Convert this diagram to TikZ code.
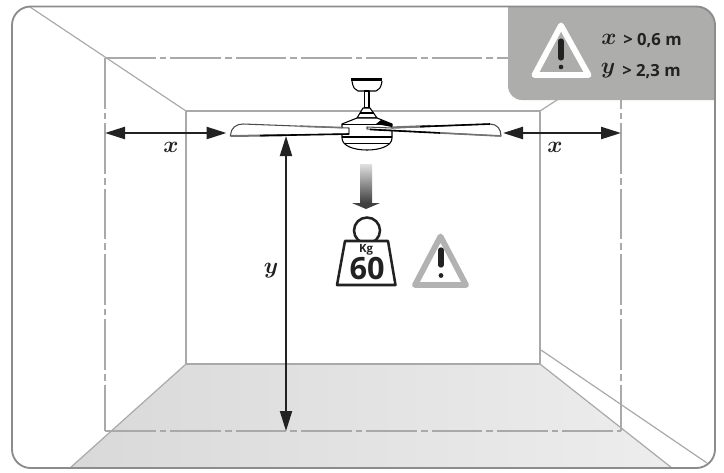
\documentclass[tikz,border=0pt]{standalone}
\usepackage{fontspec}
\setmainfont{Open Sans}
\usetikzlibrary{arrows.meta,calc}
\definecolor{wallc}{HTML}{A9A9A9}
\definecolor{framec}{HTML}{8C8C8C}
\definecolor{badgec}{HTML}{ADADAB}
\definecolor{inkc}{HTML}{222222}
\tikzset{
  wall/.style={draw=wallc,line width=1.5pt},
  thinwall/.style={draw=wallc,line width=0.9pt},
  dimline/.style={wallc,line width=1.6pt,dash pattern=on 38pt off 3pt on 5pt off 3pt},
  dimarrow/.style={inkc,line width=1.8pt,{Triangle[length=15pt,width=9pt]}-{Triangle[length=15pt,width=9pt]}},
  mathlabel/.style={inner sep=0pt,text=inkc,font=\fontsize{18.5}{19}\selectfont\boldmath},
  speclabel/.style={inner sep=0pt,text=inkc,font=\fontsize{18.5}{19}\selectfont\boldmath},
  spec/.style={inner sep=0pt,anchor=west,text=inkc,font=\fontsize{12.5}{13}\selectfont\bfseries},
  fanline/.style={draw=black,line width=0.8pt,fill=white,line join=round},
  warn/.style={line width=4.4pt,line join=round},
}
\begin{document}
\begin{tikzpicture}[x=0.75pt,y=-0.75pt]
\useasboundingbox (0,0) rectangle (724,472);
% named corners
\coordinate (backTL) at (186,111); \coordinate (backTR) at (540,111);
\coordinate (backBL) at (186,364); \coordinate (backBR) at (540,364);
\coordinate (dimTL) at (105,58); \coordinate (dimTR) at (621,58);
\coordinate (dimBL) at (105,431); \coordinate (dimBR) at (621,431);
% floor
\shade[left color=black!15,right color=black!7,middle color=black!11] (backBL) -- (backBR) -- (672,468) -- (70,468) -- cycle;
\draw[thinwall] (70,468) -- (backBL);
\draw[thinwall] (672,468) -- (backBR);
% wall edges
\draw[thinwall] (30,7) -- (backTL);
\draw[thinwall] (backTR) -- (560,98);
\draw[thinwall] (541,350) -- (707,463);
\draw[wall] (backBL) -- (backTL) -- (backTR) -- (backBR) -- cycle;
% dash-dot clearance frame
\draw[dimline] (dimTL) -- (dimTR);
\draw[dimline] (dimBL) -- (dimBR);
\draw[dimline] (dimTL) -- (dimBL);
\draw[dimline] (dimTR) -- (dimBR);
% badge
\fill[badgec] (508,6) -- (697,6) arc[start angle=-90,end angle=0,radius=18] -- (715,100) -- (522,100) arc[start angle=90,end angle=180,radius=14] -- cycle;
% outer frame
\draw[framec,line width=1.4pt,rounded corners=14pt] (12,6.5) rectangle (715,468);
% badge warning
\draw[warn,draw=white] (561,25.5) -- (534.5,75) -- (588.5,75) -- cycle;
\draw[inkc,line width=3.8pt,line cap=round] (561,41) -- (561,58);
\fill[inkc] (561,67) circle (2.3);
\node[speclabel] (specx) at (609,39) {$x$};
\node[speclabel] (specy) at (608,71) {$y$};
\node[spec] (specxv) at (623,41) {> 0,6 m};
\node[spec] (specyv) at (622,72) {> 2,3 m};
% fan
\fill[black] (351,78) rectangle (382,81);
\draw[fanline] (352,81) .. controls (353,88) and (355,90) .. (358,91) -- (376,91) .. controls (379,90) and (381,88) .. (382,81);
\draw[fanline] (364.5,91) rectangle (369,108);
\draw[fanline] (363,108) -- (370,108) -- (377,118) -- (357,118) -- cycle;
\draw[black,line width=1.2pt] (360,113) -- (374,113);
% body
\draw[fanline] (342,124) -- (357,118) -- (377,118) -- (392,124) -- (392,138) .. controls (392,146) and (380,150) .. (367,150) .. controls (354,150) and (342,146) .. (342,138) -- cycle;
\fill[black] (381,120) -- (392,124) -- (392,127) -- (376,124) -- cycle;
\draw[black,line width=1.4pt] (342,137) -- (392,137);
\draw[black,line width=1.4pt] (344,143.5) -- (390,143.5);
\draw[black,line width=1.2pt] (342,124.5) -- (392,124.5);
% blades
\draw[fanline,draw=black!70] (349,128) -- (243,124) .. controls (236,124) and (231,128) .. (230.5,135) -- (230.5,136) -- (349,134) -- cycle;
\draw[black!55,line width=1.5pt] (231,136) -- (285,135.2);
\draw[black,line width=1.2pt] (260,135.6) -- (349,134);
\draw[black!55,line width=1.2pt] (300,126.2) -- (342,127.6);
\draw[fanline,draw=black!70] (367,127) -- (392,128) -- (490,124) .. controls (497,124) and (501,129) .. (501,136) -- (367,129) -- cycle;
\draw[black!55,line width=1.6pt] (392,127.5) -- (430,126);
\draw[black,line width=1.2pt] (420,126.6) -- (490,124);
\draw[black,line width=1.2pt] (370,129.5) -- (440,133);
\draw[black!55,line width=1.2pt] (440,133) -- (501,136);
% clearance arrows
\coordinate (xla) at (105,133); \coordinate (xlb) at (226.5,133);
\coordinate (xra) at (503,133); \coordinate (xrb) at (621,133);
\coordinate (ya) at (286,136); \coordinate (yb) at (286,431);
\draw[dimarrow] (xla) -- (xlb);
\draw[dimarrow] (xra) -- (xrb);
\draw[dimarrow,line width=1.5pt] (ya) -- (yb);
\node[mathlabel] (labelxl) at (171,147.5) {$x$};
\node[mathlabel] (labelxr) at (555,147.5) {$x$};
\node[mathlabel] (labely) at (271,271) {$y$};
% load arrow
\shade[top color=black!12,bottom color=black!75] (360,164) rectangle (372,203);
\fill[black!75] (352,203) -- (380,203) -- (366,209) -- cycle;
% weight
\draw[inkc,line width=1.9pt] (367,230.5) circle (13);
\draw[inkc,line width=1.9pt,fill=white,line join=round] (345,241) -- (388,241) -- (395.5,285) -- (337,285) -- cycle;
\node[inner sep=0pt,text=inkc,font=\fontsize{8.5}{9}\selectfont\bfseries] (kg) at (366,250) {Kg};
\node[inner sep=0pt,text=inkc,font=\fontsize{23}{23}\selectfont\bfseries] (sixty) at (367,269) {60};
% warning
\draw[warn,draw=black!30] (440.5,236.5) -- (415,285) -- (466,285) -- cycle;
\draw[inkc,line width=4pt,line cap=round] (441,250) -- (441,265);
\fill[inkc] (441,275.5) circle (2.4);
\end{tikzpicture}
\end{document}
